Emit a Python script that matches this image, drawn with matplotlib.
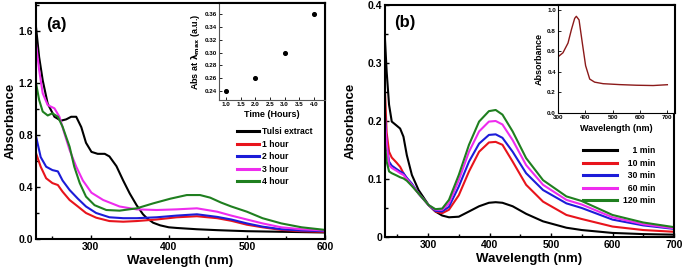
import matplotlib
matplotlib.use("Agg")
import matplotlib.pyplot as plt
from matplotlib.ticker import MultipleLocator

plt.rcParams["font.family"] = ["Liberation Sans", "DejaVu Sans"]
plt.rcParams["font.weight"] = "bold"
plt.rcParams["axes.labelweight"] = "bold"
plt.rcParams["mathtext.default"] = "bf"

# ---------------- panel (a): Tulsi extract, hours ----------------
tulsi_x = [230, 234, 238.6, 245, 253.6, 262, 268.6, 275, 281.5, 288, 294, 301, 309, 318, 324,
           333, 341.6, 350, 358.8, 367, 372, 380, 389, 400, 410, 436, 462, 500, 550, 600]
tulsi_y = [1.63, 1.40, 1.22, 1.04, 0.94, 0.91, 0.92, 0.94, 0.94, 0.86, 0.74, 0.67, 0.655, 0.655, 0.635,
           0.56, 0.45, 0.35, 0.26, 0.19, 0.16, 0.125, 0.105, 0.09, 0.085, 0.075, 0.068, 0.06, 0.055, 0.05]

hour_x = [230, 236, 243, 251, 258, 264, 273, 283.6, 294, 307, 324, 341.6, 358.8, 384.5,
          410, 436, 462, 480, 500, 520, 544, 570, 600]
hour1_y = [0.66, 0.556, 0.467, 0.43, 0.415, 0.364, 0.30, 0.25, 0.20, 0.164, 0.138, 0.133, 0.138, 0.15,
           0.167, 0.175, 0.16, 0.14, 0.11, 0.09, 0.07, 0.06, 0.055]
hour2_y = [0.79, 0.63, 0.556, 0.53, 0.52, 0.45, 0.377, 0.31, 0.25, 0.20, 0.167, 0.16, 0.16, 0.167,
           0.18, 0.19, 0.17, 0.15, 0.12, 0.095, 0.075, 0.065, 0.06]

hour34_x = [230, 234, 238.6, 245, 253.6, 260, 266.5, 273, 281.5, 290, 301, 316, 337, 358.8,
            384.5, 410, 436, 462, 480, 500, 520, 544, 570, 600]
hour3_y = [1.505, 1.30, 1.12, 1.03, 1.005, 0.94, 0.81, 0.685, 0.556, 0.45, 0.356, 0.30, 0.25, 0.228,
           0.223, 0.228, 0.236, 0.21, 0.18, 0.15, 0.12, 0.09, 0.075, 0.065]

hour4_x = [230, 234, 238.6, 245, 251, 258, 264, 273, 279, 286, 294, 305, 320, 337, 359,
           380, 402, 423, 440, 453, 467, 480, 500, 520, 544, 570, 600]
hour4_y = [1.20, 1.07, 0.98, 0.95, 0.967, 0.94, 0.864, 0.71, 0.556, 0.43, 0.326, 0.26, 0.223, 0.218, 0.236,
           0.274, 0.31, 0.338, 0.338, 0.318, 0.28, 0.25, 0.21, 0.16, 0.12, 0.09, 0.07]

time_h = [1.0, 2.0, 3.0, 4.0]
abs_max = [0.24, 0.26, 0.30, 0.36]

# ---------------- panel (b): minutes ----------------
min_x = [230, 232.7, 236.6, 241, 249, 254.6, 260, 265.5, 273.7, 284.6, 301, 312, 323, 334,
         350, 366.6, 383, 399, 410, 421, 437.6, 459.5, 487, 525, 550, 600, 650, 700]
min1_y = [0.34, 0.285, 0.228, 0.199, 0.192, 0.187, 0.173, 0.141, 0.107, 0.081, 0.055, 0.044, 0.037, 0.034,
          0.035, 0.044, 0.053, 0.059, 0.06, 0.059, 0.053, 0.04, 0.027, 0.016, 0.012, 0.007, 0.005, 0.004]
min10_y = [0.25, 0.18, 0.147, 0.137, 0.128, 0.121, 0.11, 0.10, 0.090, 0.075, 0.055, 0.044, 0.041, 0.047,
           0.072, 0.113, 0.147, 0.163, 0.164, 0.159, 0.13, 0.09, 0.061, 0.038, 0.031, 0.018, 0.012, 0.009]
min30_y = [0.21, 0.16, 0.13, 0.123, 0.117, 0.113, 0.11, 0.102, 0.092, 0.075, 0.055, 0.045, 0.044, 0.052,
           0.087, 0.13, 0.161, 0.176, 0.177, 0.171, 0.147, 0.11, 0.081, 0.058, 0.05, 0.03, 0.02, 0.014]
min60_y = [0.20, 0.16, 0.124, 0.119, 0.114, 0.11, 0.107, 0.100, 0.090, 0.075, 0.055, 0.047, 0.047, 0.058,
           0.098, 0.147, 0.182, 0.199, 0.20, 0.194, 0.167, 0.124, 0.09, 0.064, 0.056, 0.034, 0.022, 0.015]
min120_y = [0.16, 0.13, 0.113, 0.11, 0.106, 0.103, 0.101, 0.097, 0.088, 0.075, 0.055, 0.048, 0.049, 0.064,
            0.107, 0.159, 0.199, 0.217, 0.219, 0.211, 0.182, 0.136, 0.098, 0.07, 0.062, 0.038, 0.025, 0.017]

ext_x = [300, 318, 336.6, 349, 361, 367, 377, 389, 401, 416, 434, 465, 526, 587, 648, 700]
ext_y = [0.546, 0.585, 0.68, 0.81, 0.92, 0.94, 0.905, 0.68, 0.46, 0.33, 0.30, 0.285, 0.276, 0.27, 0.267, 0.275]

RED = "#e8141c"
BLUE = "#1c1cd8"
MAG = "#ee2cee"
GREEN = "#1f7f1f"
LW = 1.5

fig = plt.figure(figsize=(6.85, 2.7), dpi=100)


def style_main(ax, ylab_x, xlab_y):
    for s in ax.spines.values():
        s.set_linewidth(1.5)
    ax.tick_params(which="both", direction="in", top=False, right=False, labelsize=7.5, width=1, pad=2)
    ax.tick_params(which="major", length=3)
    ax.tick_params(which="minor", length=2)
    ax.set_xlabel("Wavelength (nm)", fontsize=9.5)
    ax.set_ylabel("Absorbance", fontsize=9.5)
    ax.yaxis.set_label_coords(ylab_x, 0.5)
    ax.xaxis.set_label_coords(0.5, xlab_y)


# ---------- panel a ----------
axa = fig.add_axes([36 / 685, 31 / 270, 289 / 685, 236 / 270])
axa.plot(tulsi_x, tulsi_y, color="black", lw=LW, label="Tulsi extract")
axa.plot(hour_x, hour1_y, color=RED, lw=LW, label="1 hour")
axa.plot(hour_x, hour2_y, color=BLUE, lw=LW, label="2 hour")
axa.plot(hour34_x, hour3_y, color=MAG, lw=LW, label="3 hour")
axa.plot(hour4_x, hour4_y, color=GREEN, lw=LW, label="4 hour")
axa.set_xlim(230, 600)
axa.set_ylim(0, 1.815)
axa.xaxis.set_major_locator(MultipleLocator(100))
axa.xaxis.set_minor_locator(MultipleLocator(50))
axa.yaxis.set_major_locator(MultipleLocator(0.4))
axa.yaxis.set_minor_locator(MultipleLocator(0.2))
axa.yaxis.set_major_formatter(matplotlib.ticker.FormatStrFormatter("%.1f"))
style_main(axa, -0.066, -0.066)
axa.text(0.035, 0.91, "(a)", transform=axa.transAxes, fontsize=12, fontweight="bold", va="center")
leg = axa.legend(loc="upper left", bbox_to_anchor=(237 / 685, 1 - 127 / 270), bbox_transform=fig.transFigure,
                 frameon=False, fontsize=6.2, handlelength=2.5, handletextpad=0.4, labelspacing=0.42,
                 borderpad=0, borderaxespad=0)
for h in leg.get_lines():
    h.set_linewidth(2.2)

# inset a
ina = fig.add_axes([219 / 685, (270 - 100) / 270, 106 / 685, 97 / 270])
ina.scatter(time_h, abs_max, s=7, color="black", zorder=3)
ina.set_xlim(0.76, 4.375)
ina.set_ylim(0.226, 0.3777)
ina.xaxis.set_major_locator(MultipleLocator(0.5))
ina.yaxis.set_major_locator(MultipleLocator(0.02))
ina.yaxis.set_major_formatter(matplotlib.ticker.FormatStrFormatter("%.2f"))
ina.tick_params(direction="in", labelsize=4.5, length=2, width=0.6, pad=1.5)
for k in ["left", "bottom"]:
    ina.spines[k].set_color("#555555")
    ina.spines[k].set_linewidth(0.8)
for k in ["top", "right"]:
    ina.spines[k].set_linewidth(1.5)
ina.set_xlabel("Time (Hours)", fontsize=6.5, labelpad=2)
ina.set_ylabel(r"Abs at $\lambda_{max}$ (a.u.)", fontsize=6.5, labelpad=2)

# ---------- panel b ----------
axb = fig.add_axes([385 / 685, 33 / 270, 289 / 685, 232 / 270])
axb.plot(min_x, min1_y, color="black", lw=LW, label="    1 min")
axb.plot(min_x, min10_y, color=RED, lw=LW, label="  10 min")
axb.plot(min_x, min30_y, color=BLUE, lw=LW, label="  30 min")
axb.plot(min_x, min60_y, color=MAG, lw=LW, label="  60 min")
axb.plot(min_x, min120_y, color=GREEN, lw=LW, label="120 min")
axb.set_xlim(230, 700)
axb.set_ylim(0, 0.4)
axb.xaxis.set_major_locator(MultipleLocator(100))
axb.xaxis.set_minor_locator(MultipleLocator(50))
axb.yaxis.set_major_locator(MultipleLocator(0.1))
axb.yaxis.set_minor_locator(MultipleLocator(0.05))
axb.yaxis.set_major_formatter(matplotlib.ticker.FuncFormatter(lambda v, p: "0" if v == 0 else f"{v:.1f}"))
style_main(axb, -0.097, -0.068)
axb.text(0.03, 0.925, "(b)", transform=axb.transAxes, fontsize=12, fontweight="bold", va="center")
legb = axb.legend(loc="upper left", bbox_to_anchor=(583 / 685, 1 - 146 / 270), bbox_transform=fig.transFigure,
                  frameon=False, fontsize=6.2, handlelength=4.0, handletextpad=0.6, labelspacing=0.42,
                  borderpad=0, borderaxespad=0)
for h in legb.get_lines():
    h.set_linewidth(2.2)

# inset b
inb = fig.add_axes([558 / 685, (270 - 113) / 270, 117 / 685, 108 / 270])
inb.plot(ext_x, ext_y, color="#8b1a1a", lw=1.0)
inb.set_xlim(300, 728)
inb.set_ylim(0, 1.05)
inb.xaxis.set_major_locator(MultipleLocator(100))
inb.yaxis.set_major_locator(MultipleLocator(0.2))
inb.yaxis.set_major_formatter(matplotlib.ticker.FormatStrFormatter("%.1f"))
inb.tick_params(direction="in", labelsize=4.5, length=2, width=0.6, pad=1.5)
for k in ["left", "bottom"]:
    inb.spines[k].set_linewidth(0.8)
for k in ["top", "right"]:
    inb.spines[k].set_linewidth(1.5)
inb.set_xlabel("Wavelength (nm)", fontsize=6.5, labelpad=3)
inb.set_ylabel("Absorbance", fontsize=6.5, labelpad=2)

fig.savefig("out.png", dpi=100)
